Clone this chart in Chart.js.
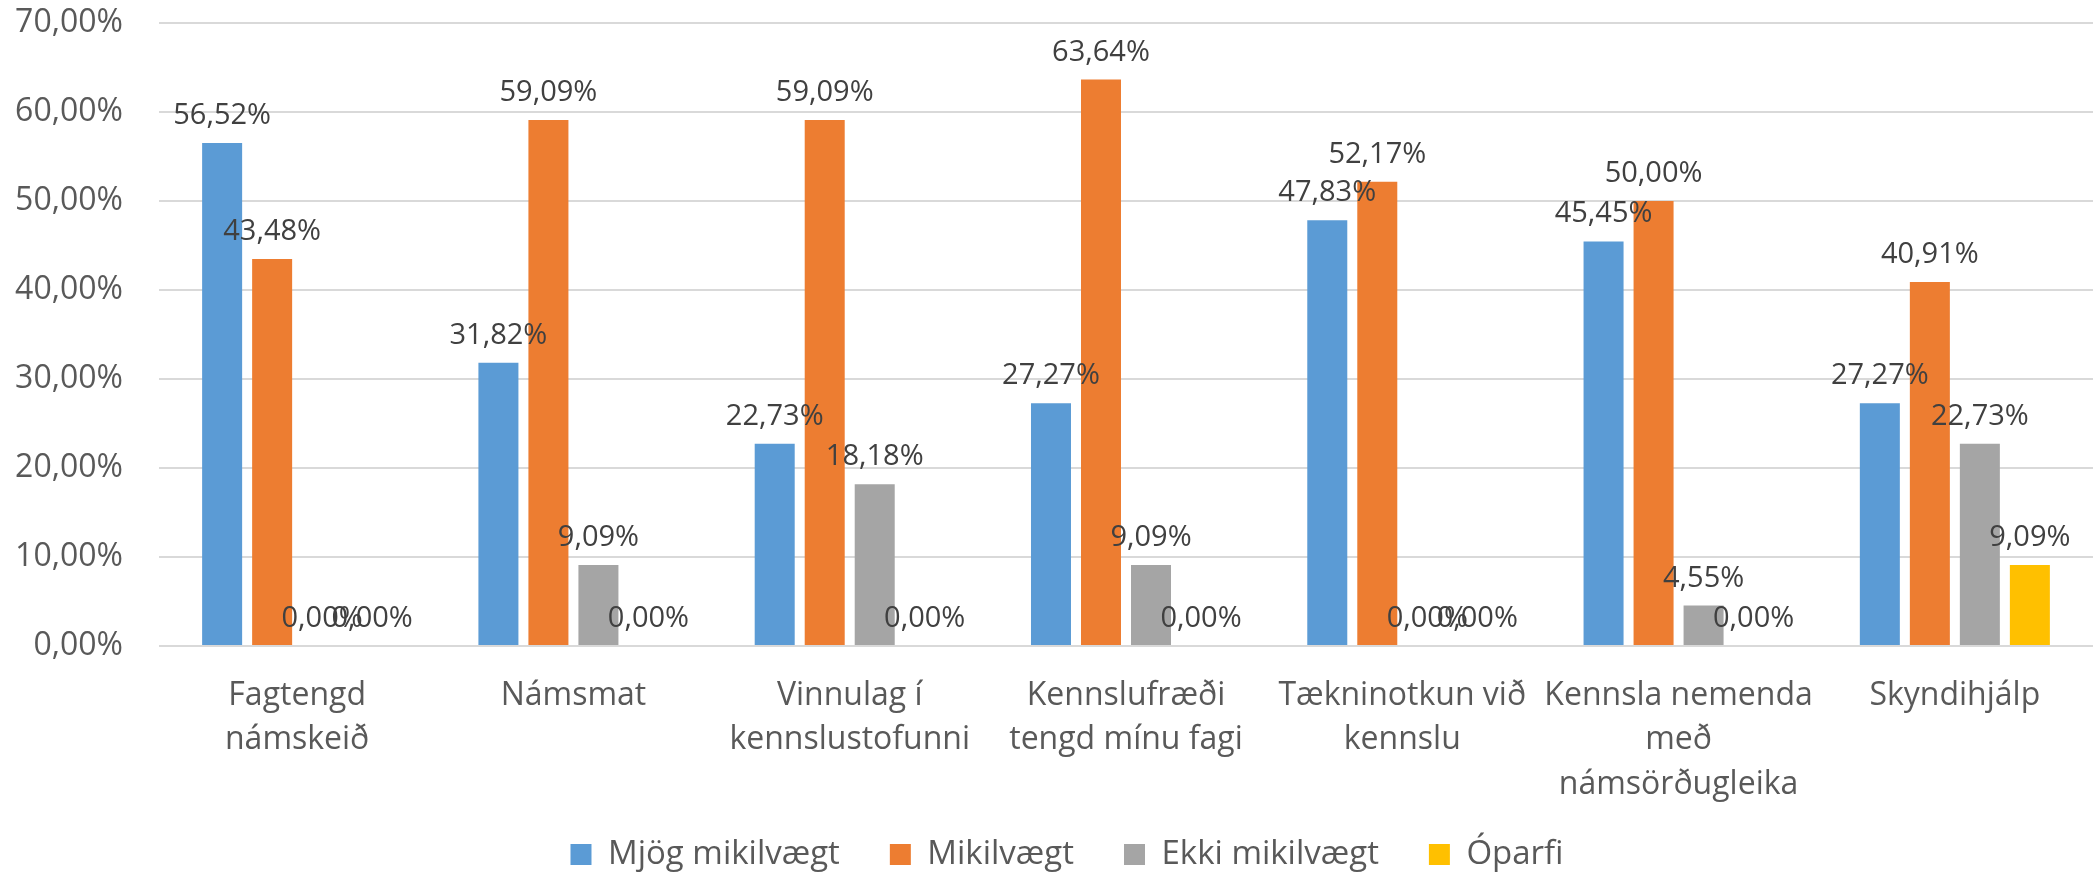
<!DOCTYPE html>
<html>
<head>
<meta charset="utf-8">
<script src="https://cdn.jsdelivr.net/npm/chart.js@4/dist/chart.umd.min.js"></script>
<style>
  html, body { margin: 0; padding: 0; background: #fff; }
  #wrap { width: 2093px; height: 872px; position: relative; }
</style>
</head>
<body>
<div id="wrap"><canvas id="namskeidChart"></canvas></div>
<script>
const categories = [
    ['Fagtengd', 'námskeið'],
    'Námsmat',
    ['Vinnulag í', 'kennslustofunni'],
    ['Kennslufræði', 'tengd mínu fagi'],
    ['Tækninotkun við', 'kennslu'],
    ['Kennsla nemenda', 'með', 'námsörðugleika'],
    'Skyndihjálp'
];
const mjogMikilvaegt = [56.52, 31.82, 22.73, 27.27, 47.83, 45.45, 27.27];
const mikilvaegt = [43.48, 59.09, 59.09, 63.64, 52.17, 50.00, 40.91];
const ekkiMikilvaegt = [0, 9.09, 18.18, 9.09, 0, 4.55, 22.73];
const oparfi = [0, 0, 0, 0, 0, 0, 9.09];
const yTicks = [0, 10, 20, 30, 40, 50, 60, 70];

const fmt = v => v.toFixed(2).replace('.', ',') + '%';

// value labels above each bar
const barLabels = {
    id: 'barLabels',
    afterDatasetsDraw(chart) {
        const ctx = chart.ctx;
        ctx.save();
        ctx.font = '29px "Open Sans"';
        ctx.fillStyle = '#404040';
        ctx.textAlign = 'center';
        ctx.textBaseline = 'alphabetic';
        chart.data.datasets.forEach((ds, i) => {
            const meta = chart.getDatasetMeta(i);
            meta.data.forEach((bar, j) => {
                ctx.fillText(fmt(ds.data[j]), bar.x, bar.y - 19);
            });
        });
        ctx.restore();
    }
};

// nudge the legend right, and let the 3-line category label run into the legend band
const layoutTweaks = {
    id: 'layoutTweaks',
    afterLayout(chart) {
        if (chart.legend) {
            chart.legend.left += 14;
            chart.legend.right += 14;
        }
        chart.scales.x.bottom = chart.height;
    }
};

const ctx = document.getElementById('namskeidChart').getContext('2d');
const chart = new Chart(ctx, {
    type: 'bar',
    data: {
        labels: categories,
        datasets: [
            { label: 'Mjög mikilvægt', data: mjogMikilvaegt, backgroundColor: '#5b9bd5' },
            { label: 'Mikilvægt', data: mikilvaegt, backgroundColor: '#ed7d31' },
            { label: 'Ekki mikilvægt', data: ekkiMikilvaegt, backgroundColor: '#a5a5a5' },
            { label: 'Óparfi', data: oparfi, backgroundColor: '#ffc000' }
        ]
    },
    options: {
        responsive: true,
        maintainAspectRatio: false,
        animation: false,
        layout: { padding: { left: 13, right: 0, top: 0, bottom: -9 } },
        datasets: {
            bar: { categoryPercentage: 0.724, barPercentage: 0.8 }
        },
        scales: {
            x: {
                grid: { display: false, drawTicks: false },
                border: { display: false },
                afterFit: scale => {
                    scale.height = 142;
                    scale.paddingLeft = 0;
                    scale.paddingRight = 0;
                },
                ticks: {
                    color: '#595959',
                    font: { family: 'Open Sans', size: 32, lineHeight: 1.38 },
                    padding: 28,
                    maxRotation: 0,
                    autoSkip: false
                }
            },
            y: {
                min: 0,
                max: 70,
                afterBuildTicks: scale => { scale.ticks = yTicks.map(v => ({ value: v })); },
                afterFit: scale => {
                    scale.width = 146;
                    scale.paddingTop = 23;
                    scale.paddingBottom = 0;
                },
                grid: { color: '#d9d9d9', lineWidth: 2, drawTicks: false },
                border: { display: false },
                ticks: {
                    color: '#595959',
                    font: { family: 'Open Sans', size: 32 },
                    padding: 36,
                    callback: v => fmt(v)
                }
            }
        },
        plugins: {
            legend: {
                position: 'bottom',
                labels: {
                    color: '#595959',
                    font: { family: 'Open Sans', size: 33 },
                    boxWidth: 21,
                    boxHeight: 21,
                    padding: 50
                }
            },
            tooltip: { enabled: false }
        }
    },
    plugins: [barLabels, layoutTweaks]
});
</script>
</body>
</html>
